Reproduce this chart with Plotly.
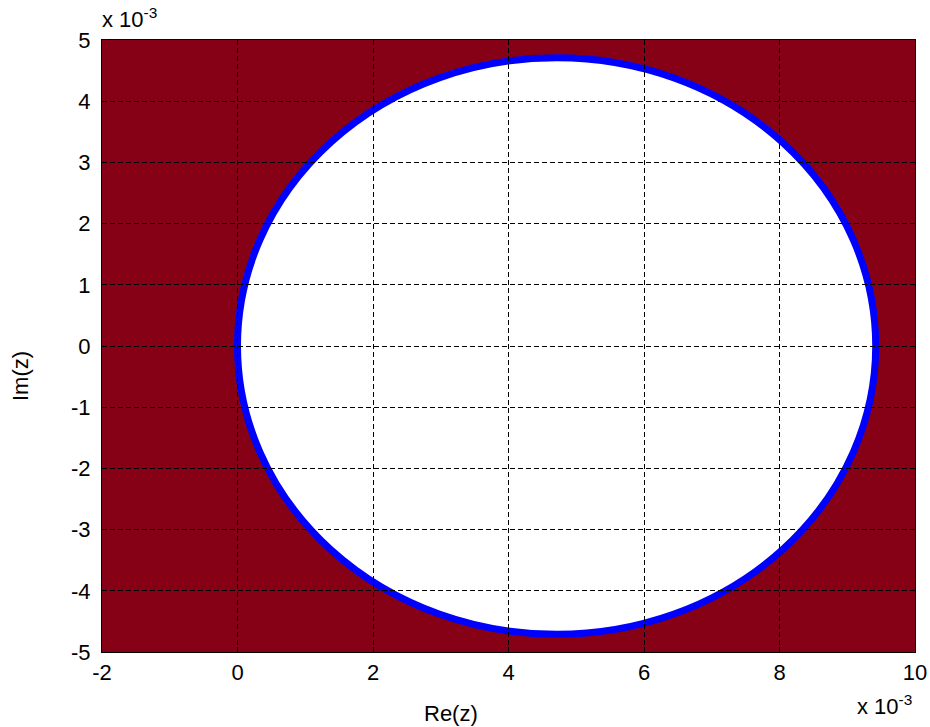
import plotly.graph_objects as go

# Data (units of 1e-3)
circle_center_re = 4.71
circle_center_im = 0.0
circle_radius = 4.71
x_ticks = [-2, 0, 2, 4, 6, 8, 10]
y_ticks = [-5, -4, -3, -2, -1, 0, 1, 2, 3, 4, 5]
x_range = [-2, 10]
y_range = [-5, 5]

FONT = "Liberation Sans, Arial, sans-serif"
FS = 22

fig = go.Figure()
fig.add_trace(go.Scatter(x=[None], y=[None], showlegend=False))

fig.add_shape(type="circle", xref="x", yref="y",
              x0=circle_center_re - circle_radius, x1=circle_center_re + circle_radius,
              y0=circle_center_im - circle_radius, y1=circle_center_im + circle_radius,
              fillcolor="white", line=dict(color="#0000FF", width=7), layer="below")

axis_common = dict(showgrid=True, gridcolor="black", griddash="5px,3px", gridwidth=1,
                   showline=True, linecolor="black", linewidth=1, mirror="ticks",
                   ticks="inside", ticklen=5, tickcolor="black", zeroline=False,
                   automargin=False,
                   tickfont=dict(family=FONT, size=FS, color="black"))

fig.update_xaxes(range=x_range, tickvals=x_ticks, ticktext=[str(v) for v in x_ticks],
                 ticklabelstandoff=1, **axis_common)
fig.update_yaxes(range=y_range, tickvals=y_ticks, ticktext=[str(v) for v in y_ticks],
                 ticklabelstandoff=6, **axis_common)

W, H = 930, 727
L, R, T, B = 102, 15, 40, 75
pw, ph = W - L - R, H - T - B

def px(xp):
    return (xp - L) / pw

def py(yp):
    return (H - B - yp) / ph

fig.add_annotation(text="Re(z)", xref="paper", yref="paper", x=px(451), y=py(713),
                   xanchor="center", yanchor="middle", showarrow=False,
                   font=dict(family=FONT, size=FS, color="black"))
fig.add_annotation(text="Im(z)", xref="paper", yref="paper", x=px(20), y=py(376),
                   xanchor="center", yanchor="middle", showarrow=False, textangle=-90,
                   font=dict(family=FONT, size=FS, color="black"))
fig.add_annotation(text="x 10<sup>-3</sup>", xref="paper", yref="paper", x=px(100), y=py(18),
                   xanchor="left", yanchor="middle", showarrow=False,
                   font=dict(family=FONT, size=FS, color="black"))
fig.add_annotation(text="x 10<sup>-3</sup>", xref="paper", yref="paper", x=px(914), y=py(705),
                   xanchor="right", yanchor="middle", showarrow=False,
                   font=dict(family=FONT, size=FS, color="black"))

fig.update_layout(width=W, height=H, margin=dict(l=L, r=R, t=T, b=B),
                  plot_bgcolor="#860016", paper_bgcolor="white", showlegend=False)

fig.write_html("out.html", config={"displayModeBar": False},
               post_script="document.body.style.margin='0';document.body.style.overflow='hidden';")
